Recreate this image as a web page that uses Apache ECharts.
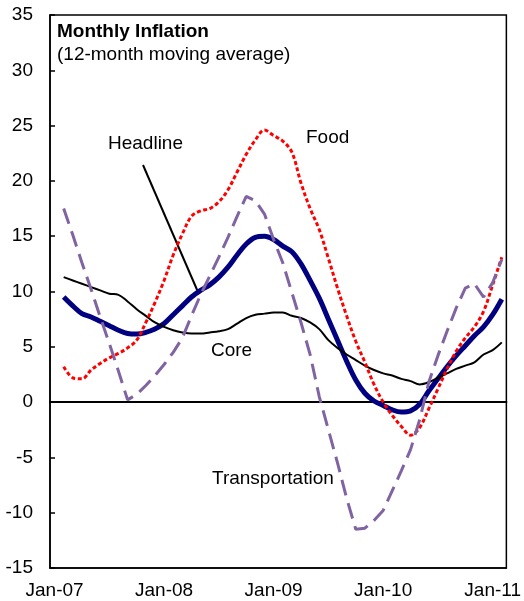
<!DOCTYPE html>
<html>
<head>
<meta charset="utf-8">
<script src="https://cdn.jsdelivr.net/npm/echarts@6/dist/echarts.min.js"></script>
<style>
    html, body { margin: 0; padding: 0; background: #fff; }
    #chart { width: 524px; height: 601px; }
</style>
</head>
<body>
<div id="chart"></div>
<script>
    // monthly categories, Jan-07 .. Feb-11 (series start in Feb-07)
    var months = [
        'Jan-07', 'Feb-07', 'Mar-07', 'Apr-07', 'May-07', 'Jun-07', 'Jul-07', 'Aug-07', 'Sep-07', 'Oct-07', 'Nov-07', 'Dec-07',
        'Jan-08', 'Feb-08', 'Mar-08', 'Apr-08', 'May-08', 'Jun-08', 'Jul-08', 'Aug-08', 'Sep-08', 'Oct-08', 'Nov-08', 'Dec-08',
        'Jan-09', 'Feb-09', 'Mar-09', 'Apr-09', 'May-09', 'Jun-09', 'Jul-09', 'Aug-09', 'Sep-09', 'Oct-09', 'Nov-09', 'Dec-09',
        'Jan-10', 'Feb-10', 'Mar-10', 'Apr-10', 'May-10', 'Jun-10', 'Jul-10', 'Aug-10', 'Sep-10', 'Oct-10', 'Nov-10', 'Dec-10',
        'Jan-11', 'Feb-11'
    ];

    var headline = [null,
        9.5, 8.7, 8.0, 7.7, 7.3, 6.9, 6.5, 6.2, 6.15, 6.3, 6.6,
        7.1, 7.9, 8.7, 9.5, 10.1, 10.6, 11.3, 12.2, 13.3, 14.3, 14.9, 15.0,
        14.7, 14.1, 13.6, 12.5, 11.0, 9.4, 7.5, 5.6, 3.7, 2.0, 0.8, 0.1,
        -0.3, -0.7, -0.9, -0.8, -0.2, 1.0, 2.1, 3.2, 4.2, 5.1, 6.0, 6.8,
        7.9, 9.3];

    var core = [null,
        11.3, 11.0, 10.7, 10.4, 10.1, 9.8, 9.7, 9.1, 8.4, 7.8, 7.2,
        6.8, 6.5, 6.3, 6.2, 6.2, 6.3, 6.4, 6.6, 7.1, 7.6, 7.9, 8.0,
        8.1, 8.1, 7.8, 7.6, 7.2, 6.6, 5.6, 4.9, 4.3, 3.8, 3.3, 2.9,
        2.6, 2.4, 2.1, 1.9, 1.6, 1.8, 2.2, 2.6, 3.0, 3.3, 3.6, 4.3,
        4.7, 5.4];

    var food = [null,
        3.2, 2.2, 2.1, 2.9, 3.5, 4.0, 4.4, 4.9, 5.6, 7.2, 9.0,
        11.0, 13.3, 15.2, 16.8, 17.3, 17.5, 18.1, 19.2, 20.8, 22.4, 23.7, 24.6,
        24.1, 23.6, 22.6, 19.8, 17.5, 15.6, 13.0, 10.3, 7.8, 5.5, 3.6, 1.6,
        0.0, -1.2, -2.2, -3.0, -2.3, -0.6, 1.2, 3.0, 4.6, 5.8, 6.8, 8.2,
        10.6, 13.1];

    var transportation = [null,
        17.5, 15.1, 12.6, 10.2, 7.7, 5.3, 2.8, 0.2, 0.7, 1.5, 2.4,
        3.4, 4.5, 5.8, 7.8, 9.7, 11.4, 13.1, 14.9, 16.8, 18.6, 18.2, 17.0,
        14.7, 12.6, 9.9, 7.2, 4.3, 0.5, -2.5, -5.5, -8.7, -11.5, -11.4, -10.7,
        -9.8, -8.0, -6.2, -4.3, -1.6, 1.8, 4.2, 6.4, 8.5, 10.3, 10.7, 9.5,
        10.8, 12.9];

    var font = 'Liberation Sans, Arial, sans-serif';
    var chart = echarts.init(document.getElementById('chart'));

    chart.setOption({
        animation: false,
        backgroundColor: '#fff',
        grid: {
            left: 50, right: 16, top: 15, bottom: 33,
            show: true, borderColor: '#000', borderWidth: 1.5
        },
        xAxis: [
            {
                type: 'category',
                data: months,
                position: 'bottom',
                boundaryGap: true,
                axisLine: { onZero: false, lineStyle: { color: '#000', width: 1.5 } },
                axisTick: { show: false },
                axisLabel: { interval: 11, fontSize: 19, color: '#000', margin: 13, fontFamily: font }
            },
            {
                type: 'category',
                data: months,
                position: 'bottom',
                boundaryGap: true,
                axisLine: { onZero: true, lineStyle: { color: '#000', width: 2 } },
                axisTick: { inside: true, length: 7, interval: 11, lineStyle: { color: '#000', width: 1.5 } },
                axisLabel: { show: false }
            }
        ],
        yAxis: {
            type: 'value',
            min: -15, max: 35, interval: 5,
            splitLine: { show: false },
            axisLine: { show: true, lineStyle: { color: '#000', width: 1.5 } },
            axisTick: { show: true, inside: true, length: 5, lineStyle: { color: '#000', width: 1.5 } },
            axisLabel: { fontSize: 19, color: '#000', margin: 17, fontFamily: font }
        },
        series: [
            {
                name: 'Headline', type: 'line', data: headline, symbol: 'none', smooth: 0.35,
                lineStyle: { color: '#000080', width: 5 }
            },
            {
                name: 'Core', type: 'line', data: core, symbol: 'none', smooth: 0.35,
                lineStyle: { color: '#000', width: 2 }
            },
            {
                name: 'Food', type: 'line', data: food, symbol: 'none', smooth: 0.35,
                lineStyle: { color: '#ff0000', width: 3, type: [4, 2.5] }
            },
            {
                name: 'Transportation', type: 'line', data: transportation, symbol: 'none',
                lineStyle: { color: '#8064a2', width: 3, type: [16, 8] }
            }
        ],
        graphic: [
            { type: 'text', left: 57, top: 22, style: { text: 'Monthly Inflation', font: 'bold 19px ' + font, fill: '#000' } },
            { type: 'text', left: 57, top: 45, style: { text: '(12-month moving average)', font: '19px ' + font, fill: '#000' } },
            { type: 'text', left: 108, top: 134, style: { text: 'Headline', font: '19px ' + font, fill: '#000' } },
            { type: 'text', left: 306, top: 128, style: { text: 'Food', font: '19px ' + font, fill: '#000' } },
            { type: 'text', left: 211, top: 341, style: { text: 'Core', font: '19px ' + font, fill: '#000' } },
            { type: 'text', left: 212, top: 469, style: { text: 'Transportation', font: '19px ' + font, fill: '#000' } },
            { type: 'line', shape: { x1: 143, y1: 165, x2: 198, y2: 292 }, style: { stroke: '#000', lineWidth: 2 } }
        ]
    });
</script>
</body>
</html>
